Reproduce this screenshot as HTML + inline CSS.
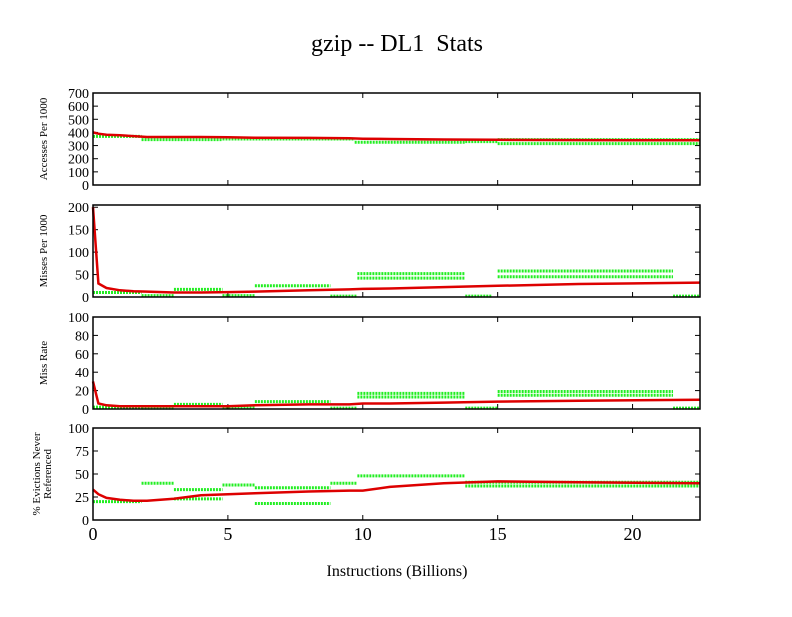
<!DOCTYPE html>
<html><head><meta charset="utf-8"><style>
body{margin:0;background:#fff;width:792px;height:612px;overflow:hidden}
svg text{font-family:"Liberation Serif",serif;fill:#000}
</style></head><body>
<svg id="c" width="792" height="612" xmlns="http://www.w3.org/2000/svg">
<text x="397" y="51" font-size="24" text-anchor="middle" xml:space="preserve">gzip -- DL1  Stats</text>
<text x="397" y="576" font-size="16" text-anchor="middle">Instructions (Billions)</text>
</svg>
<script>
const xTicks=[0,5,10,15,20];
const xMax=22.5;
const panelTitles=[["Accesses Per 1000"],["Misses Per 1000"],["Miss Rate"],["% Evictions Never","Referenced"]];
const panelMax=[700,205,100,100];
const panelTicks=[[0,100,200,300,400,500,600,700],[0,50,100,150,200],[0,20,40,60,80,100],[0,25,50,75,100]];
// green segments: [start, end, value]
const green0=[[0,1.8,370],[1.8,4.8,345],[4.8,9.7,350],[9.7,13.8,325],[13.8,15,330],[15,22.5,315],[15,22.5,345]];
const green1=[[0,1.8,10],[1.8,3,3],[3,4.8,17],[4.8,6,3],[6,8.8,25],[8.8,9.8,2],[9.8,13.8,52],[9.8,13.8,42],[13.8,14.8,2],[15,21.5,58],[15,21.5,45],[21.5,22.5,2]];
const green2=[[0,1.8,2],[1.8,3,1],[3,4.8,5],[4.8,6,2],[6,8.8,8],[8.8,9.8,1],[9.8,13.8,17],[9.8,13.8,13],[13.8,15,1],[15,21.5,19],[15,21.5,15],[21.5,22.5,1]];
const green3=[[0,1.8,20],[1.8,3,40],[3,4.8,33],[3,4.8,23],[4.8,6,38],[6,8.8,35],[6,8.8,18],[8.8,9.8,40],[9.8,13.8,48],[13.8,22.5,41],[13.8,22.5,37]];
const redX=[0,0.2,0.5,1,1.5,2,3,4,5,6,8,9.5,10,11,13,15,18,22.5];
const red0=[400,390,382,378,372,365,365,365,363,360,358,355,352,350,346,344,342,340];
const red1=[200,30,20,15,13,12,10,10,11,12,15,17,18,19,22,25,29,32];
const red2=[30,6,4,3,3,3,3,3,3,4,5,5,6,6,7,8,9,10];
const red3=[33,28,24,22,21,21,23,27,28,29,31,32,32,36,40,42,41,40];
const greens=[green0,green1,green2,green3];
const reds=[red0,red1,red2,red3];
const panelTop=[93,205,317,428];
const PH=92,X0=93,X1=700;
const svg=document.getElementById('c');
const NS='http://www.w3.org/2000/svg';
function mk(t,a,p){const e=document.createElementNS(NS,t);for(const k in a)e.setAttribute(k,a[k]);(p||svg).appendChild(e);return e;}
const xs=v=>X0+v/xMax*(X1-X0);
for(let p=0;p<4;p++){
  const top=panelTop[p],bot=top+PH,ys=v=>bot-v/panelMax[p]*PH;
  const g=mk('g',{});
  
  
  for(const t of panelTicks[p]){
    const y=ys(t);
    mk('line',{x1:X0,x2:X0+5,y1:y,y2:y,stroke:'#000'},g);
    mk('line',{x1:X1,x2:X1-5,y1:y,y2:y,stroke:'#000'},g);
    const tx=mk('text',{x:X0-4,y:y+5,'font-size':14,'text-anchor':'end'},g);tx.textContent=t;
    
    
  }
  for(const t of xTicks){
    mk('line',{x1:xs(t),x2:xs(t),y1:bot,y2:bot-5,stroke:'#000'},g);
    mk('line',{x1:xs(t),x2:xs(t),y1:top,y2:top+5,stroke:'#000'},g);
  }
  for(const s of greens[p]){
    const y=ys(s[2]);
    const l=mk('line',{x1:xs(s[0]),x2:xs(s[1]),y1:y,y2:y,stroke:'#22ee22','stroke-width':3,'stroke-dasharray':'2 1'},g);
    
    
  }
  const pts=redX.map((x,i)=>xs(x).toFixed(1)+','+ys(Math.min(reds[p][i],panelMax[p])).toFixed(1)).join(' ');
  const pl=mk('polyline',{points:pts,fill:'none',stroke:'#dd0000','stroke-width':2.5},g);
  
  
  mk('rect',{x:X0,y:top,width:X1-X0,height:PH,fill:'none',stroke:'#000','stroke-width':1.5},g);
  const lines=panelTitles[p],cx=lines.length>1?40:47,cy=top+PH/2;
  lines.forEach((s,i)=>{
    const tt=mk('text',{x:0,y:0,'font-size':11,'text-anchor':'middle',transform:`translate(${cx+i*11},${cy}) rotate(-90)`},g);
    tt.textContent=s;
    
    
  });
}
for(const t of xTicks){
  const tx=mk('text',{x:xs(t),y:540,'font-size':18,'text-anchor':'middle'});
  tx.textContent=t;
  
  
}
</script>
</body></html>
